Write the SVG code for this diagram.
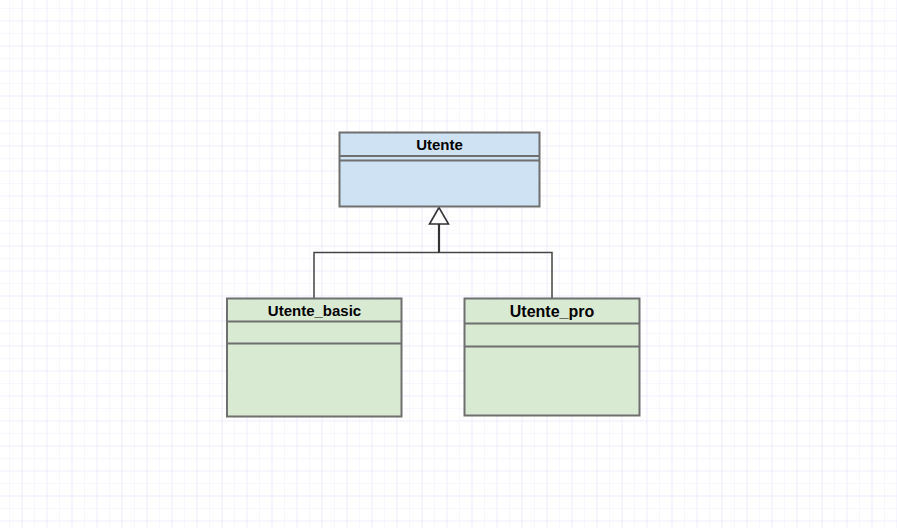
<svg xmlns="http://www.w3.org/2000/svg" width="897" height="528" viewBox="0 0 897 528">
<defs>
<pattern id="minor" width="12.5" height="12.5" patternUnits="userSpaceOnUse" x="9" y="8">
<path d="M0 0H12.5M0 0V12.5" fill="none" stroke="#f2effd" stroke-width="1"/>
</pattern>
<pattern id="major" width="25" height="25" patternUnits="userSpaceOnUse" x="21.5" y="20.5">
<path d="M0 0H25M0 0V25" fill="none" stroke="#e7e2fb" stroke-width="1"/>
</pattern>
</defs>
<style>
.box{stroke:#6f6f6f;stroke-width:2}
.blue{fill:#cfe2f3}
.green{fill:#d9ead3}
.sep{stroke:#6f6f6f;stroke-width:2;fill:none}
.t{font-family:"Liberation Sans",Arial,sans-serif;font-weight:bold;fill:#000;text-anchor:middle}
.conn{stroke:#444;fill:none;stroke-width:1.5}
</style>
<rect width="897" height="528" fill="#ffffff"/>
<rect width="897" height="528" fill="url(#minor)"/>
<rect width="897" height="528" fill="url(#major)"/>
<g id="connectors">
<path class="conn" d="M314 298V252.5H552V298"/>
<path d="M439 252.5V224" stroke="#333" stroke-width="2.2" fill="none"/>
<polygon points="439,207.5 429.5,224 448.5,224" fill="#fff" stroke="#333" stroke-width="1.6"/>
</g>
<g id="Utente">
<rect class="box blue" x="339.5" y="132.5" width="200" height="74"/>
<path class="sep" d="M339.5 156H539.5M339.5 160.5H539.5"/>
<text class="t" x="439.5" y="150" font-size="15">Utente</text>
</g>
<g id="Utente_basic">
<rect class="box green" x="227" y="298.5" width="174.5" height="118"/>
<path class="sep" d="M227 321.5H401.5M227 343.5H401.5"/>
<text class="t" x="314.5" y="315.5" font-size="15">Utente_basic</text>
</g>
<g id="Utente_pro">
<rect class="box green" x="464.5" y="298.5" width="175" height="117"/>
<path class="sep" d="M464.5 323.5H639.5M464.5 346.5H639.5"/>
<text class="t" x="552" y="316.5" font-size="16">Utente_pro</text>
</g>
</svg>
